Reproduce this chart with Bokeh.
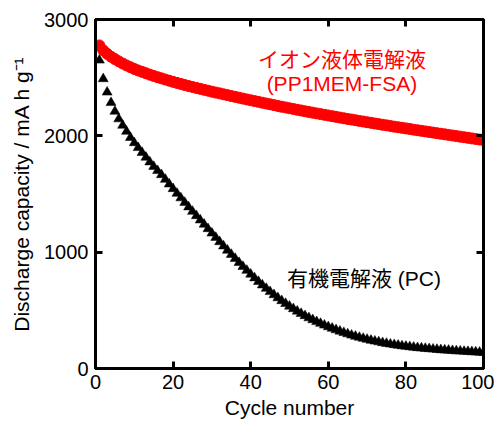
from bokeh.plotting import figure
from bokeh.models import LinearAxis, Range1d, FixedTicker, Label, ColumnDataSource
from bokeh.embed import file_html
from bokeh.resources import INLINE

cycles = list(range(1, 101))

ionic_liquid = [
    2777, 2735, 2705, 2680, 2660, 2640, 2622, 2605, 2590, 2575,
    2562, 2550, 2538, 2526, 2515, 2504, 2494, 2484, 2474, 2464,
    2455, 2446, 2437, 2428, 2420, 2412, 2404, 2396, 2388, 2380,
    2372, 2365, 2357, 2350, 2342, 2335, 2328, 2320, 2313, 2306,
    2299, 2292, 2285, 2278, 2271, 2264, 2257, 2250, 2244, 2237,
    2231, 2224, 2218, 2211, 2205, 2199, 2193, 2187, 2181, 2175,
    2169, 2163, 2157, 2151, 2145, 2140, 2134, 2128, 2123, 2117,
    2112, 2106, 2101, 2095, 2090, 2085, 2079, 2074, 2069, 2064,
    2059, 2053, 2048, 2043, 2038, 2033, 2028, 2023, 2018, 2013,
    2008, 2003, 1998, 1993, 1988, 1983, 1978, 1973, 1968, 1963,
]

organic_pc = [
    2650, 2490, 2375, 2285, 2210, 2145, 2090, 2038, 1985, 1940,
    1898, 1856, 1815, 1775, 1736, 1700, 1665, 1625, 1585, 1545,
    1505, 1466, 1427, 1388, 1350, 1313, 1276, 1239, 1201, 1163,
    1126, 1089, 1052, 1016, 980, 945, 910, 876, 843, 810,
    778, 747, 717, 688, 660, 633, 607, 582, 558, 535,
    513, 492, 472, 453, 435, 418, 402, 387, 372, 358,
    345, 332, 320, 308, 297, 286, 276, 267, 258, 250,
    242, 235, 228, 221, 215, 209, 204, 199, 194, 190,
    186, 182, 178, 175, 172, 169, 166, 163, 160, 158,
    156, 153, 151, 149, 147, 145, 143, 141, 139, 137,
]

x_ticks = [0, 20, 40, 60, 80, 100]
y_ticks = [0, 1000, 2000, 3000]

label_ionic_1 = "イオン液体電解液"
label_ionic_2 = "(PP1MEM-FSA)"
label_pc = "有機電解液 (PC)"

FONT = "Liberation Sans, Noto Sans CJK JP"

p = figure(width=494, height=421, output_backend="svg", toolbar_location=None,
           x_range=Range1d(0, 100), y_range=Range1d(0, 3000),
           min_border_left=95, min_border_right=11, min_border_top=19, min_border_bottom=40)
p.xgrid.visible = False
p.ygrid.visible = False
p.outline_line_color = "black"
p.outline_line_width = 3
p.background_fill_color = "white"
p.border_fill_color = "white"

src = ColumnDataSource(dict(c=cycles, il=ionic_liquid, pc=organic_pc))
p.scatter("c", "pc", source=src, marker="triangle", size=10, fill_color="black", line_color="black", line_width=0.5)
p.scatter("c", "il", source=src, marker="circle", size=11, fill_color="#ff0000", line_color="#ff0000")

def style(ax, ticks, show_labels=True):
    ax.ticker = FixedTicker(ticks=ticks)
    ax.axis_line_width = 3
    ax.axis_line_color = "black"
    ax.major_tick_line_width = 3
    ax.major_tick_in = 7
    ax.major_tick_out = 0
    ax.minor_tick_line_color = None
    ax.major_label_text_font = FONT
    if show_labels:
        ax.major_label_text_font_size = "20px"
        ax.major_label_text_color = "black"
    else:
        ax.major_label_text_font_size = "1px"
        ax.major_label_text_color = None
        ax.major_label_standoff = 0

style(p.xaxis[0], x_ticks)
style(p.yaxis[0], y_ticks)
p.xaxis[0].axis_label = "Cycle number"
p.yaxis[0].axis_label = "Discharge capacity / mA h g\u207b\u00b9"
for ax in (p.xaxis[0], p.yaxis[0]):
    ax.axis_label_text_font = FONT
    ax.axis_label_text_font_size = "21px"
    ax.axis_label_text_font_style = "normal"
    ax.axis_label_text_color = "black"
p.xaxis[0].major_label_standoff = 6
p.xaxis[0].axis_label_standoff = 4
p.yaxis[0].major_label_standoff = 7
p.yaxis[0].axis_label_standoff = 8

top = LinearAxis()
style(top, x_ticks, show_labels=False)
p.add_layout(top, "above")
right = LinearAxis()
style(right, y_ticks, show_labels=False)
p.add_layout(right, "right")

p.add_layout(Label(x=63.5, y=2655, text=label_ionic_1, text_align="center", text_baseline="middle",
                   text_font=FONT, text_font_size="21px", text_color="#ff0000"))
p.add_layout(Label(x=63.5, y=2450, text=label_ionic_2, text_align="center", text_baseline="middle",
                   text_font=FONT, text_font_size="21px", text_color="#ff0000"))
p.add_layout(Label(x=69.2, y=775, text=label_pc, text_align="center", text_baseline="middle",
                   text_font=FONT, text_font_size="21px", text_color="black"))

open("out.html", "w").write(file_html(p, INLINE))
